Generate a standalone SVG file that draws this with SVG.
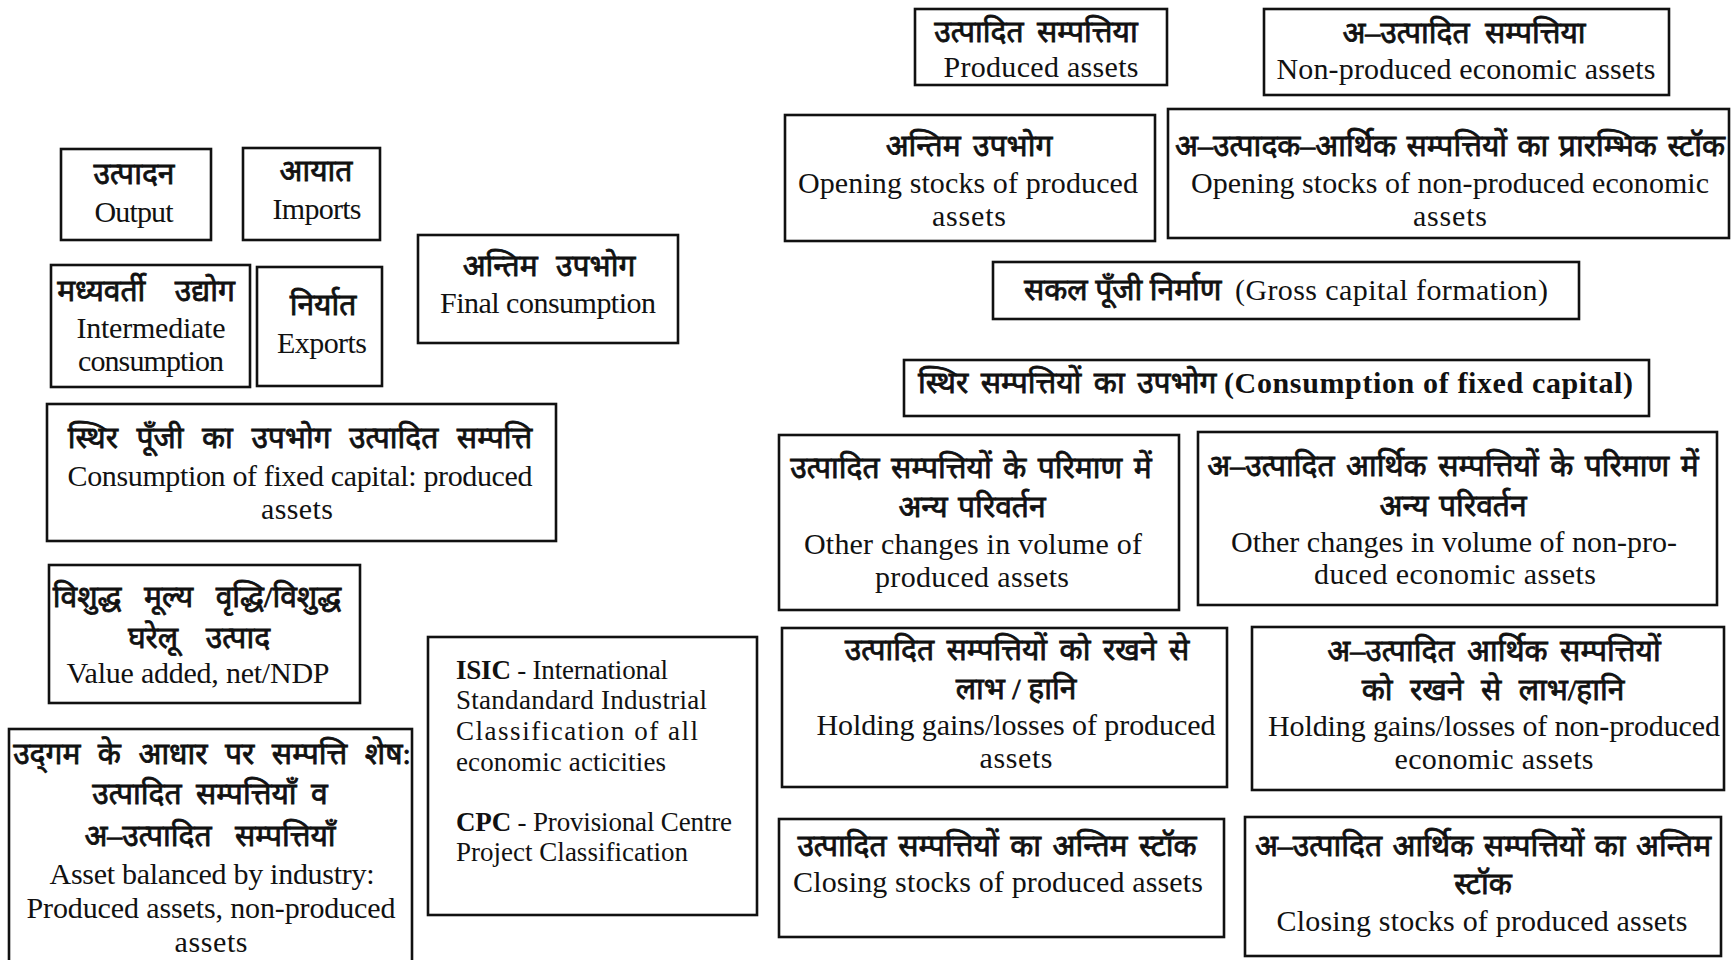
<svg xmlns="http://www.w3.org/2000/svg" width="1731" height="960" viewBox="0 0 1731 960">
<style>
rect.b{fill:none;stroke:#111;stroke-width:2.6}
text{font-family:"Liberation Serif","Noto Sans",serif;font-size:30px;fill:#111;text-anchor:middle;dominant-baseline:central}
text.hi{font-size:30px;stroke:#111;stroke-width:0.8}
text.l{text-anchor:start;font-size:27px}
text.s{text-anchor:start}
.bd{font-weight:bold}
</style>
<rect x="0" y="0" width="1731" height="960" fill="#fff"/>
<g id="output"><rect class="b" x="61" y="149" width="150" height="91"/><text class="hi" x="134" y="173">उत्पादन</text><text x="134" y="211" textLength="79">Output</text></g>
<g id="imports"><rect class="b" x="243" y="148" width="137" height="92"/><text class="hi" x="316" y="170">आयात</text><text x="317" y="208" textLength="89">Imports</text></g>
<g id="intermediate"><rect class="b" x="51" y="265" width="199" height="122"/><text class="hi" x="146" y="290" word-spacing="22">मध्यवर्ती उद्योग</text><text x="151" y="327" textLength="149">Intermediate</text><text x="151" y="360" textLength="146">consumption</text></g>
<g id="exports"><rect class="b" x="257" y="267" width="125" height="119"/><text class="hi" x="323" y="304">निर्यात</text><text x="322" y="342" textLength="90">Exports</text></g>
<g id="final"><rect class="b" x="418" y="235" width="260" height="108"/><text class="hi" x="549" y="265" word-spacing="11">अन्तिम उपभोग</text><text x="548" y="302" textLength="216">Final consumption</text></g>
<g id="cfc-produced"><rect class="b" x="47" y="404" width="509" height="137"/><text class="hi" x="300" y="437" word-spacing="11">स्थिर पूँजी का उपभोग उत्पादित सम्पत्ति</text><text x="300" y="475" textLength="465">Consumption of fixed capital: produced</text><text x="297" y="508" textLength="72">assets</text></g>
<g id="value-added"><rect class="b" x="49" y="565" width="311" height="138"/><text class="hi" x="197" y="596" word-spacing="15">विशुद्ध मूल्य वृद्धि/विशुद्ध</text><text class="hi" x="199" y="637" word-spacing="20">घरेलू उत्पाद</text><text x="198" y="672" textLength="263">Value added, net/NDP</text></g>
<g id="asset-balance"><rect class="b" x="9" y="729" width="403" height="240"/><text class="hi" x="212" y="753" word-spacing="10">उद्‌गम के आधार पर सम्पत्ति शेष:</text><text class="hi" x="210" y="793" word-spacing="7">उत्पादित सम्पत्तियाँ व</text><text class="hi" x="210" y="835" word-spacing="16">अ–उत्पादित सम्पत्तियाँ</text><text x="212" y="873" textLength="325">Asset balanced by industry:</text><text x="211" y="907" textLength="369">Produced assets, non-produced</text><text x="211" y="941" textLength="73">assets</text></g>
<g id="isic"><rect class="b" x="428" y="637" width="329" height="278"/><text class="l" x="456" y="670" textLength="212"><tspan class="bd">ISIC</tspan> - International</text><text class="l" x="456" y="700" textLength="251">Standandard Industrial</text><text class="l" x="456" y="731" textLength="242">Classification of all</text><text class="l" x="456" y="762" textLength="210">economic acticities</text><text class="l" x="456" y="822" textLength="276"><tspan class="bd">CPC</tspan> - Provisional Centre</text><text class="l" x="456" y="852" textLength="232">Project Classification</text></g>
<g id="produced"><rect class="b" x="915" y="9" width="252" height="76"/><text class="hi" x="1036" y="31" word-spacing="6">उत्पादित सम्पत्तिया</text><text x="1041" y="66" textLength="195">Produced assets</text></g>
<g id="non-produced"><rect class="b" x="1264" y="9" width="405" height="86"/><text class="hi" x="1464" y="32" word-spacing="8">अ–उत्पादित सम्पत्तिया</text><text x="1466" y="68" textLength="379">Non-produced economic assets</text></g>
<g id="opening-produced"><rect class="b" x="785" y="115" width="370" height="126"/><text class="hi" x="969" y="145" word-spacing="5">अन्तिम उपभोग</text><text x="968" y="182" textLength="340">Opening stocks of produced</text><text x="969" y="215" textLength="74">assets</text></g>
<g id="opening-non-produced"><rect class="b" x="1168" y="109" width="561" height="129"/><text class="hi" x="1450" y="145" word-spacing="3">अ–उत्पादक–आर्थिक सम्पत्तियों का प्रारम्भिक स्टॉक</text><text x="1450" y="182" textLength="518">Opening stocks of non-produced economic</text><text x="1450" y="215" textLength="74">assets</text></g>
<g id="gcf"><rect class="b" x="993" y="262" width="586" height="57"/><text class="hi s" x="1024" y="289">सकल पूँजी निर्माण</text><text class="s" x="1235" y="289" textLength="313">(Gross capital formation)</text></g>
<g id="cfc"><rect class="b" x="904" y="360" width="745" height="56"/><text class="hi s" x="918" y="382" word-spacing="5">स्थिर सम्पत्तियों का उपभोग</text><text class="s bd" x="1224" y="382" textLength="409">(Consumption of fixed capital)</text></g>
<g id="ocv-produced"><rect class="b" x="779" y="435" width="400" height="175"/><text class="hi" x="971" y="467" word-spacing="4">उत्पादित सम्पत्तियों के परिमाण में</text><text class="hi" x="972" y="506" word-spacing="3">अन्य परिवर्तन</text><text x="973" y="543" textLength="338">Other changes in volume of</text><text x="972" y="576" textLength="194">produced assets</text></g>
<g id="ocv-non-produced"><rect class="b" x="1198" y="432" width="519" height="173"/><text class="hi" x="1453" y="465" word-spacing="4">अ–उत्पादित आर्थिक सम्पत्तियों के परिमाण में</text><text class="hi" x="1453" y="505" word-spacing="3">अन्य परिवर्तन</text><text x="1454" y="541" textLength="446">Other changes in volume of non-pro-</text><text x="1455" y="573" textLength="282">duced economic assets</text></g>
<g id="hg-produced"><rect class="b" x="782" y="628" width="445" height="159"/><text class="hi" x="1017" y="649" word-spacing="5">उत्पादित सम्पत्तियों को रखने से</text><text class="hi" x="1016" y="688">लाभ / हानि</text><text x="1016" y="724" textLength="399">Holding gains/losses of produced</text><text x="1016" y="757" textLength="73">assets</text></g>
<g id="hg-non-produced"><rect class="b" x="1252" y="627" width="472" height="163"/><text class="hi" x="1494" y="650" word-spacing="5">अ–उत्पादित आर्थिक सम्पत्तियों</text><text class="hi" x="1493" y="689" word-spacing="10">को रखने से लाभ/हानि</text><text x="1494" y="725" textLength="452">Holding gains/losses of non-produced</text><text x="1494" y="758" textLength="199">economic assets</text></g>
<g id="closing-produced"><rect class="b" x="779" y="819" width="445" height="118"/><text class="hi" x="997" y="845" word-spacing="4">उत्पादित सम्पत्तियों का अन्तिम स्टॉक</text><text x="998" y="881" textLength="410">Closing stocks of produced assets</text></g>
<g id="closing-non-produced"><rect class="b" x="1245" y="817" width="476" height="139"/><text class="hi" x="1483" y="845" word-spacing="3">अ–उत्पादित आर्थिक सम्पत्तियों का अन्तिम</text><text class="hi" x="1483" y="883">स्टॉक</text><text x="1482" y="920" textLength="411">Closing stocks of produced assets</text></g>
</svg>
